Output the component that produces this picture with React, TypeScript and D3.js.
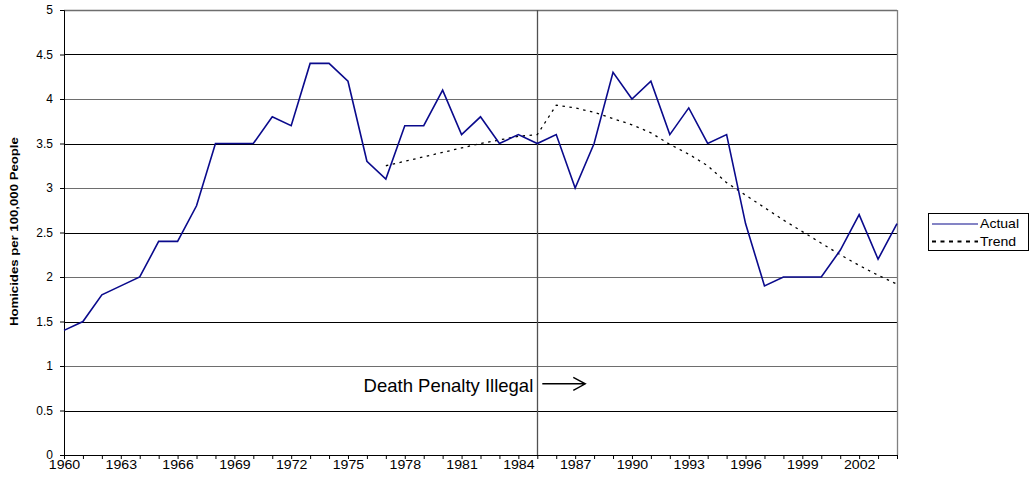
import React, { useEffect, useRef } from "react";
import * as d3 from "d3";

// homicide rate per 100,000 people, one value per year
const years: number[] = d3.range(1960, 2005);
const actual: number[] = [
  1.4, 1.5, 1.8, 1.9, 2.0, 2.4, 2.4, 2.8, 3.5, 3.5,
  3.5, 3.8, 3.7, 4.4, 4.4, 4.2, 3.3, 3.1, 3.7, 3.7,
  4.1, 3.6, 3.8, 3.5, 3.6, 3.5, 3.6, 3.0, 3.5, 4.3,
  4.0, 4.2, 3.6, 3.9, 3.5, 3.6, 2.6, 1.9, 2.0, 2.0,
  2.0, 2.3, 2.7, 2.2, 2.6,
];
const trendYears: number[] = d3.range(1977, 2005);
const trend: number[] = [
  3.25, 3.3, 3.35, 3.4, 3.45, 3.5, 3.54, 3.58, 3.6,
  3.93, 3.9, 3.85, 3.78, 3.71, 3.62, 3.49, 3.38, 3.25, 3.06,
  2.92, 2.78, 2.64, 2.51, 2.38, 2.25, 2.13, 2.02, 1.92,
];
const yTicks: number[] = d3.range(0, 5.01, 0.5);
const xLabels: number[] = d3.range(1960, 2003, 3);
const markerYear = 1985;

const font = "'Liberation Sans', Arial, sans-serif";

const App = () => {
  const svgRef = useRef<SVGSVGElement>(null);

  useEffect(() => {
    const svg = d3.select(svgRef.current);
    svg.selectAll("*").remove();

    const width = 1031;
    const height = 484;
    const margin = { top: 10, right: 134, bottom: 29, left: 64 };

    const x = d3
      .scaleLinear()
      .domain([1960, 2004])
      .range([margin.left, width - margin.right]);
    const y = d3
      .scaleLinear()
      .domain([0, 5])
      .range([height - margin.bottom, margin.top]);

    svg.attr("width", width).attr("height", height);

    // gridlines
    svg
      .append("g")
      .selectAll("line")
      .data(yTicks.filter((d) => d > 0))
      .join("line")
      .attr("x1", margin.left)
      .attr("x2", width - margin.right)
      .attr("y1", (d) => Math.round(y(d)) + 0.5)
      .attr("y2", (d) => Math.round(y(d)) + 0.5)
      .attr("stroke", (d) => (d % 1 === 0 ? "#6e6e6e" : "#000"))
      .attr("stroke-width", (d) => (d === 5 ? 1.3 : 1));

    // right border
    svg
      .append("line")
      .attr("x1", width - margin.right + 0.5)
      .attr("x2", width - margin.right + 0.5)
      .attr("y1", margin.top)
      .attr("y2", height - margin.bottom)
      .attr("stroke", "#808080")
      .attr("stroke-width", 1.3);

    // y axis
    const yAxis = svg
      .append("g")
      .attr("transform", `translate(${margin.left},0)`)
      .call(d3.axisLeft(y).tickValues(yTicks).tickSize(4).tickFormat((d) => `${d}`));
    yAxis.select(".domain").attr("stroke", "#000");
    yAxis.selectAll(".tick line").attr("stroke", "#000");
    yAxis
      .selectAll(".tick text")
      .attr("font-family", font)
      .attr("font-size", 12)
      .attr("fill", "#000")
      .attr("x", -11);

    // x axis
    const xAxis = svg
      .append("g")
      .attr("transform", `translate(0,${height - margin.bottom})`)
      .call(
        d3
          .axisBottom(x)
          .tickValues(years)
          .tickSize(4)
          .tickSizeOuter(0)
          .tickFormat((d) => (xLabels.includes(+d) ? `${d}` : ""))
      );
    xAxis.select(".domain").attr("stroke", "#000");
    xAxis.selectAll(".tick line").attr("stroke", "#000");
    xAxis
      .selectAll(".tick text")
      .attr("font-family", font)
      .attr("font-size", 12)
      .attr("fill", "#000")
      .attr("y", 5)
      .attr("transform", "scale(1.18,1)");

    // death penalty marker
    svg
      .append("line")
      .attr("x1", Math.round(x(markerYear)) + 0.5)
      .attr("x2", Math.round(x(markerYear)) + 0.5)
      .attr("y1", margin.top)
      .attr("y2", height - margin.bottom)
      .attr("stroke", "#505050")
      .attr("stroke-width", 1.3);

    svg
      .append("text")
      .attr("x", x(markerYear) - 4)
      .attr("y", y(0.71))
      .attr("text-anchor", "end")
      .attr("font-family", font)
      .attr("font-size", 18.5)
      .text("Death Penalty Illegal");

    const ay = y(0.8);
    const ax1 = x(markerYear) + 5;
    const ax2 = x(markerYear) + 48;
    svg
      .append("path")
      .attr("d", `M${ax1},${ay}H${ax2}M${ax2 - 12},${ay - 6.5}L${ax2},${ay}L${ax2 - 12},${ay + 6.5}`)
      .attr("fill", "none")
      .attr("stroke", "#000")
      .attr("stroke-width", 1.4);

    // trend line
    const trendLine = d3
      .line<number>()
      .x((d, i) => x(trendYears[i]))
      .y((d) => y(d));
    svg
      .append("path")
      .datum(trend)
      .attr("fill", "none")
      .attr("stroke", "#000")
      .attr("stroke-width", 1.3)
      .attr("stroke-dasharray", "2.5,4.5")
      .attr("d", trendLine);

    // actual line
    const actualLine = d3
      .line<number>()
      .x((d, i) => x(years[i]))
      .y((d) => y(d));
    svg
      .append("path")
      .datum(actual)
      .attr("fill", "none")
      .attr("stroke", "#0a0a8c")
      .attr("stroke-width", 1.6)
      .attr("d", actualLine);

    // y axis title
    svg
      .append("text")
      .attr("transform", `translate(18,${y(2.51)}) rotate(-90) scale(1.2,1)`)
      .attr("text-anchor", "middle")
      .attr("font-family", font)
      .attr("font-size", 11)
      .attr("font-weight", "bold")
      .text("Homicides per 100,000 People");

    // legend
    const lg = svg.append("g").attr("transform", "translate(928,213)");
    lg.append("rect")
      .attr("x", 0.5)
      .attr("y", 0.5)
      .attr("width", 100)
      .attr("height", 37)
      .attr("fill", "#fff")
      .attr("stroke", "#000");
    const items = [
      { name: "Actual", color: "#0a0a8c", dash: null, w: 1.2 },
      { name: "Trend", color: "#000", dash: "4,4.5", w: 2 },
    ];
    items.forEach((it, i) => {
      const cy = 11 + i * 17.5;
      lg.append("line")
        .attr("x1", 4)
        .attr("x2", 50)
        .attr("y1", cy)
        .attr("y2", cy)
        .attr("stroke", it.color)
        .attr("stroke-width", it.w)
        .attr("stroke-dasharray", it.dash);
      lg.append("text")
        .attr("x", 44.5)
        .attr("y", cy + 4.3)
        .attr("font-family", font)
        .attr("font-size", 12)
        .attr("transform", "scale(1.17,1)")
        .text(it.name);
    });
  }, []);

  return (
    <svg
      ref={svgRef}
      style={{ position: "absolute", left: 0, top: 0, background: "#fff" }}
    ></svg>
  );
};

export default App;
